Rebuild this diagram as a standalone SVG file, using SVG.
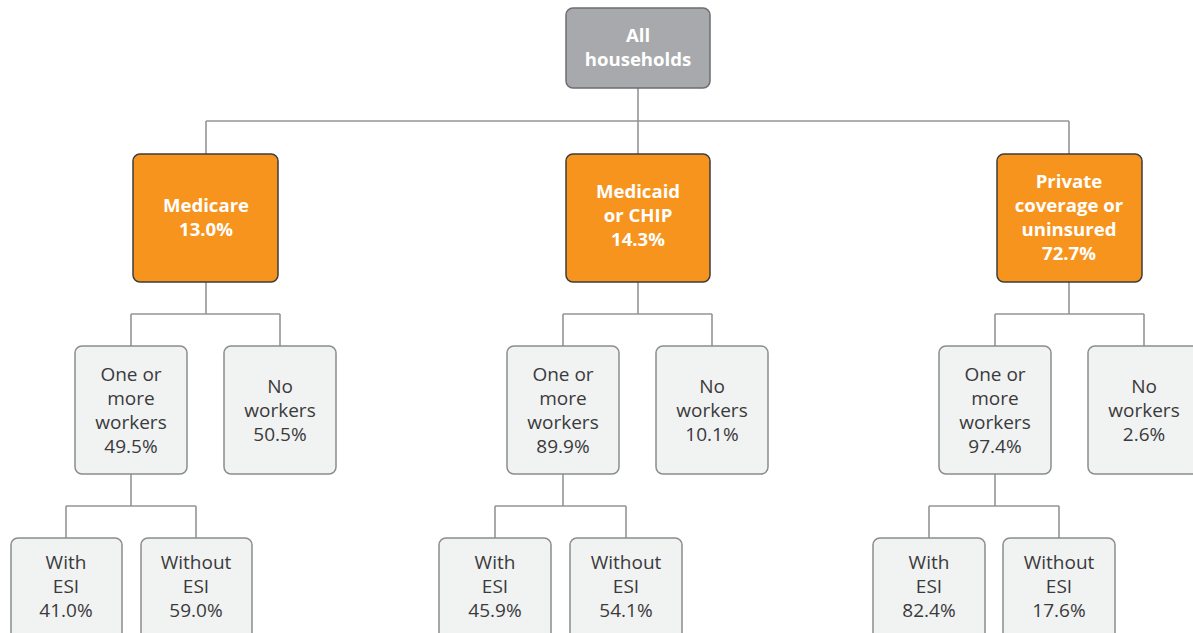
<svg xmlns="http://www.w3.org/2000/svg" width="1193" height="633" viewBox="0 0 1193 633">
<style>
.c{fill:none;stroke:#939598;stroke-width:1.6}
.top{fill:#a7a9ac;stroke:#6d6e71;stroke-width:1.5}
.or{fill:#f7941d;stroke:#3d3d3f;stroke-width:1.5}
.gr{fill:#f1f2f2;stroke:#8a8c8e;stroke-width:1.5}
.tw{font-family:"Open Sans","Liberation Sans",sans-serif;font-weight:700;font-size:18.6px;fill:#ffffff;text-anchor:middle}
.tg{font-family:"Open Sans","Liberation Sans",sans-serif;font-size:19px;fill:#3a3a3c;text-anchor:middle}
</style>
<rect width="1193" height="633" fill="#ffffff"/>
<g id="connectors">
<path class="c" d="M638 88V121M206 121H1069M206 121V154M638 121V154M1069 121V154"/>
<path class="c" d="M206 282V314M131 314H280M131 314V346M280 314V346"/>
<path class="c" d="M638 282V314M563 314H712M563 314V346M712 314V346"/>
<path class="c" d="M1069 282V314M995 314H1144M995 314V346M1144 314V346"/>
<path class="c" d="M131 474V506M66 506H196M66 506V538M196 506V538"/>
<path class="c" d="M563 474V506M495 506H626M495 506V538M626 506V538"/>
<path class="c" d="M995 474V506M929 506H1059M929 506V538M1059 506V538"/>
</g>
<g id="all">
<rect class="top" x="566" y="8" width="144" height="80" rx="7"/>
<text class="tw" x="638" y="42">All</text>
<text class="tw" x="638" y="66">households</text>
</g>
<g id="medicare">
<rect class="or" x="133" y="154" width="145" height="128" rx="7"/>
<text class="tw" x="206" y="212">Medicare</text>
<text class="tw" x="206" y="236">13.0%</text>
</g>
<g id="medicaid">
<rect class="or" x="566" y="154" width="144" height="128" rx="7"/>
<text class="tw" x="638" y="198">Medicaid</text>
<text class="tw" x="638" y="222">or CHIP</text>
<text class="tw" x="638" y="246">14.3%</text>
</g>
<g id="private">
<rect class="or" x="997" y="154" width="145" height="128" rx="7"/>
<text class="tw" x="1069" y="188">Private</text>
<text class="tw" x="1069" y="212">coverage or</text>
<text class="tw" x="1069" y="236">uninsured</text>
<text class="tw" x="1069" y="260">72.7%</text>
</g>
<g id="medicare-workers">
<rect class="gr" x="75" y="346" width="112" height="128" rx="7"/>
<text class="tg" x="131" y="381">One or</text>
<text class="tg" x="131" y="405">more</text>
<text class="tg" x="131" y="429">workers</text>
<text class="tg" x="131" y="453">49.5%</text>
</g>
<g id="medicare-noworkers">
<rect class="gr" x="224" y="346" width="112" height="128" rx="7"/>
<text class="tg" x="280" y="393">No</text>
<text class="tg" x="280" y="417">workers</text>
<text class="tg" x="280" y="441">50.5%</text>
</g>
<g id="medicaid-workers">
<rect class="gr" x="507" y="346" width="112" height="128" rx="7"/>
<text class="tg" x="563" y="381">One or</text>
<text class="tg" x="563" y="405">more</text>
<text class="tg" x="563" y="429">workers</text>
<text class="tg" x="563" y="453">89.9%</text>
</g>
<g id="medicaid-noworkers">
<rect class="gr" x="656" y="346" width="112" height="128" rx="7"/>
<text class="tg" x="712" y="393">No</text>
<text class="tg" x="712" y="417">workers</text>
<text class="tg" x="712" y="441">10.1%</text>
</g>
<g id="private-workers">
<rect class="gr" x="939" y="346" width="112" height="128" rx="7"/>
<text class="tg" x="995" y="381">One or</text>
<text class="tg" x="995" y="405">more</text>
<text class="tg" x="995" y="429">workers</text>
<text class="tg" x="995" y="453">97.4%</text>
</g>
<g id="private-noworkers">
<rect class="gr" x="1088" y="346" width="112" height="128" rx="7"/>
<text class="tg" x="1144" y="393">No</text>
<text class="tg" x="1144" y="417">workers</text>
<text class="tg" x="1144" y="441">2.6%</text>
</g>
<g id="medicare-esi">
<rect class="gr" x="11" y="538" width="111" height="110" rx="7"/>
<text class="tg" x="66" y="569">With</text>
<text class="tg" x="66" y="593">ESI</text>
<text class="tg" x="66" y="617">41.0%</text>
</g>
<g id="medicare-noesi">
<rect class="gr" x="141" y="538" width="111" height="110" rx="7"/>
<text class="tg" x="196" y="569">Without</text>
<text class="tg" x="196" y="593">ESI</text>
<text class="tg" x="196" y="617">59.0%</text>
</g>
<g id="medicaid-esi">
<rect class="gr" x="439" y="538" width="112" height="110" rx="7"/>
<text class="tg" x="495" y="569">With</text>
<text class="tg" x="495" y="593">ESI</text>
<text class="tg" x="495" y="617">45.9%</text>
</g>
<g id="medicaid-noesi">
<rect class="gr" x="570" y="538" width="112" height="110" rx="7"/>
<text class="tg" x="626" y="569">Without</text>
<text class="tg" x="626" y="593">ESI</text>
<text class="tg" x="626" y="617">54.1%</text>
</g>
<g id="private-esi">
<rect class="gr" x="873" y="538" width="112" height="110" rx="7"/>
<text class="tg" x="929" y="569">With</text>
<text class="tg" x="929" y="593">ESI</text>
<text class="tg" x="929" y="617">82.4%</text>
</g>
<g id="private-noesi">
<rect class="gr" x="1003" y="538" width="112" height="110" rx="7"/>
<text class="tg" x="1059" y="569">Without</text>
<text class="tg" x="1059" y="593">ESI</text>
<text class="tg" x="1059" y="617">17.6%</text>
</g>
</svg>
